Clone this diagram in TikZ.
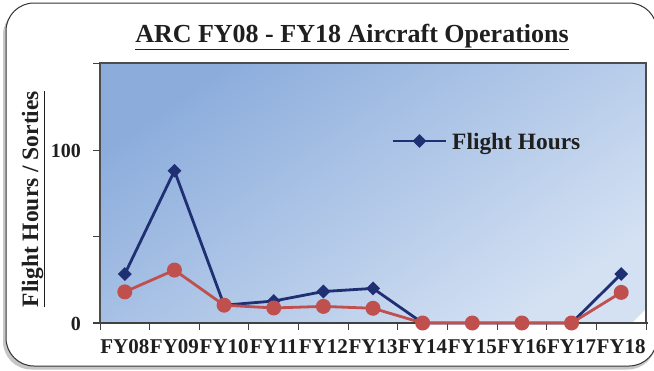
\documentclass[tikz,border=0pt]{standalone}
\usepackage{fontspec}
\setmainfont{Liberation Serif}
\usetikzlibrary{shapes.geometric}
\definecolor{navyline}{RGB}{31,47,115}
\definecolor{redline}{RGB}{192,80,77}
\definecolor{bgtop}{RGB}{140,173,220}
\definecolor{bgbot}{RGB}{212,225,243}
\tikzset{
  bdiam/.style={diamond, fill=navyline, inner sep=0pt, minimum width=14pt, minimum height=14pt},
  rdot/.style={circle, fill=redline, inner sep=0pt, minimum size=15pt},
  bline/.style={navyline, line width=2.8pt},
  rline/.style={redline, line width=2.8pt},
  xlab/.style={anchor=base, inner sep=0pt, font=\fontsize{21}{21}\selectfont\bfseries, text=black!88},
  ylab/.style={anchor=base east, inner sep=0pt, font=\fontsize{20}{20}\selectfont\bfseries, text=black!88},
  tickline/.style={black!75, line width=1pt}
}
\begin{document}
\begin{tikzpicture}[x=1pt,y=-1pt]
\useasboundingbox (0,0) rectangle (654,370);
% outer frame with shadow
\begin{scope}
\clip (0,0) rectangle (654,370);
\fill[gray!45, rounded corners=28pt] (3,7) rectangle (656,369.5);
\draw[fill=white, draw=black!80, line width=1pt, rounded corners=28pt] (6,3) rectangle (657,366);
\end{scope}
% plot area
\shade[top color=bgtop, bottom color=bgbot, shading angle=35] (100,63) rectangle (646,323);
\fill[white] (632,323) -- (646,309) -- (646,323) -- cycle;
\draw[gray!60!black, line width=1.8pt] (100,323) -- (100,63) -- (646,63) -- (646,323);
% axes
\draw[tickline, line width=1.4pt] (93,323) -- (648,323);
\foreach \v in {0,50,100,150} {
  \draw[tickline] (93,{323-1.73*\v}) -- (100,{323-1.73*\v});
}
\foreach \i in {0,...,11} {
  \draw[tickline] ({100+\i*49.64},323) -- ({100+\i*49.64},330);
}
% y tick labels
\node[ylab] (y0) at (81,330) {0};
\node[ylab] (y100) at (81,157) {100};
% x tick labels
\foreach \lab [count=\i from 0] in {08,09,10,11,12,13,14,15,16,17,18} {
  \node[xlab] (xl\i) at ({100+(\i+0.5)*49.64},353) {FY\lab};
}
% data coordinates
\foreach \v [count=\i from 0] in {28.3,88,10.3,12.7,18.2,20,0,0,0,0,28.3} {
  \coordinate (b\i) at ({100+(\i+0.5)*49.64},{323-1.73*\v});
}
\foreach \v [count=\i from 0] in {18,30.6,10.3,8.7,9.6,8.5,0,0,0,0,17.7} {
  \coordinate (r\i) at ({100+(\i+0.5)*49.64},{323-1.73*\v});
}
\draw[bline, line join=round] (b0) -- (b1) -- (b2) -- (b3) -- (b4) -- (b5) -- (b6) -- (b7) -- (b8) -- (b9) -- (b10);
\draw[rline, line join=round] (r0) -- (r1) -- (r2) -- (r3) -- (r4) -- (r5) -- (r6) -- (r7) -- (r8) -- (r9) -- (r10);
\foreach \i in {0,...,10} {
  \node[bdiam] (bm\i) at (b\i) {};
}
\foreach \i in {0,...,10} {
  \node[rdot] (rm\i) at (r\i) {};
}
% legend
\coordinate (lg1) at (393,141);
\coordinate (lg2) at (446,141);
\draw[bline] (lg1) -- (lg2);
\node[bdiam] (lgm) at (419.5,141) {};
\node[anchor=base west, inner sep=0pt, font=\fontsize{23.4}{23.4}\selectfont\bfseries, text=black!88] (lgt) at (452,149) {Flight Hours};
% title
\node[anchor=base, inner sep=0pt, font=\fontsize{26}{26}\selectfont\bfseries, text=black!88] (title) at (352,42) {\underline{ARC FY08 - FY18 Aircraft Operations}};
% y axis label
\node[rotate=90, anchor=base, inner sep=0pt, font=\fontsize{23.5}{23.5}\selectfont\bfseries, text=black!88] (ylabel) at (38,199) {\underline{Flight Hours / Sorties}};
\end{tikzpicture}
\end{document}
